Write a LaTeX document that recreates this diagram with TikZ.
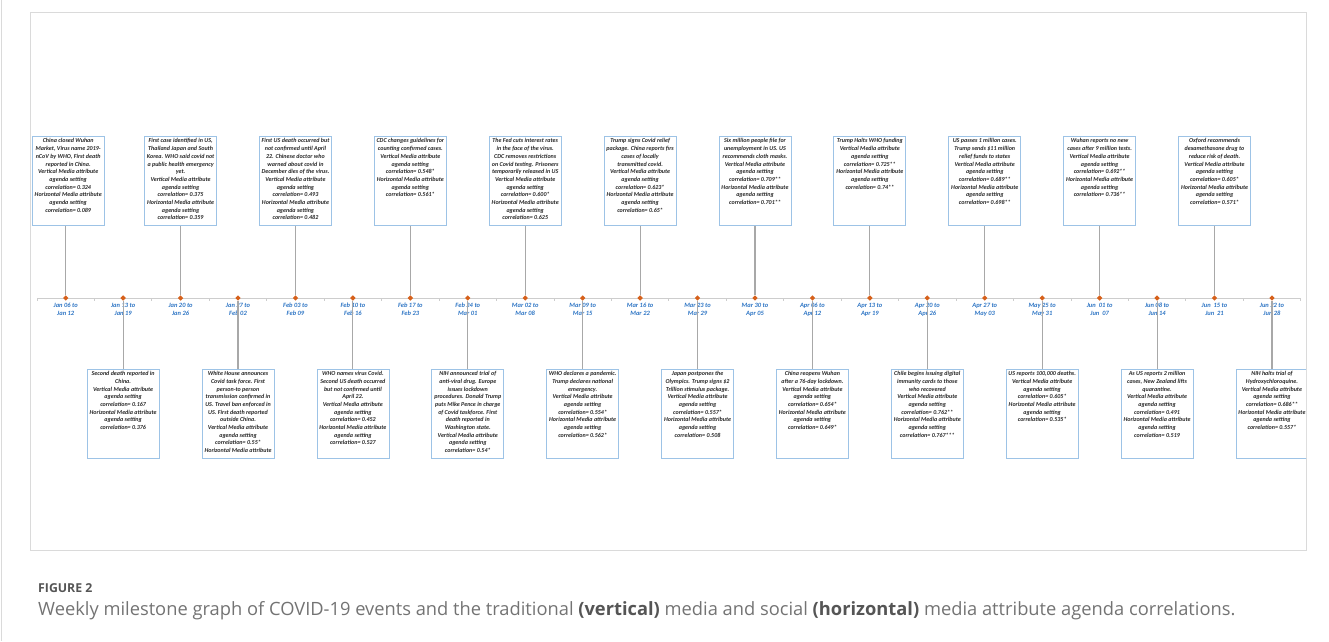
\documentclass[tikz,border=0pt]{standalone}
\usepackage{fontspec}
\setmainfont{Carlito}
\newfontfamily\capfont{Open Sans}
\usepackage{xcolor}
\definecolor{boxline}{RGB}{157,195,230}
\definecolor{stemgray}{RGB}{168,168,168}
\definecolor{axisgray}{RGB}{205,205,205}
\definecolor{dotorange}{RGB}{214,96,26}
\definecolor{datesblue}{RGB}{46,117,196}
\definecolor{framegray}{RGB}{218,218,218}
\definecolor{evtextc}{RGB}{40,40,40}
\definecolor{figgray}{RGB}{85,85,85}
\definecolor{capgray}{RGB}{115,115,115}
\usepackage{tikz}
\usetikzlibrary{positioning,shapes.geometric}
\tikzset{
  event/.style={draw=boxline,fill=white,line width=0.8pt,inner xsep=1.5pt,inner ysep=2pt,%
    text=evtextc,font=\bfseries\itshape\fontsize{6.05}{7.7}\selectfont},
  wkdot/.style={diamond,fill=dotorange,inner sep=0pt,minimum size=5.5pt},
  wklabel/.style={font=\bfseries\itshape\fontsize{6.5}{8}\selectfont,%
    text=datesblue,align=center,inner sep=0pt},
  stem/.style={draw=stemgray,line width=1.1pt},
  axisline/.style={draw=axisgray,line width=0.8pt},
}
\newcommand{\evtext}[1]{\parbox[c][85pt][t]{69pt}{\centering #1}}

\begin{document}
\begin{tikzpicture}[x=1pt,y=-1pt]
\useasboundingbox (0,0) rectangle (1329,641);
% frames
\draw[framegray,line width=0.8pt] (30,12) rectangle (1306,550);
\draw[framegray,line width=1pt] (1.5,0) -- (1.5,641);
% time axis
\coordinate (axl) at (37,298);
\coordinate (axr) at (1300,298);
\draw[axisline] (axl) -- (axr);
\foreach \t in {0,...,22}
  \draw[axisline] ({37+57.44*\t},298) -- ++(0,3);
\foreach \from/\upto [count=\i] in {Jan 06/Jan 12,Jan 13/Jan 19,Jan 20/Jan 26,%
    Jan 27/Feb 02,Feb 03/Feb 09,Feb 10/Feb 16,Feb 17/Feb 23,Feb 24/Mar 01,%
    Mar 02/Mar 08,Mar 09/Mar 15,Mar 16/Mar 22,Mar 23/Mar 29,Mar 30/Apr 05,%
    Apr 06/Apr 12,Apr 13/Apr 19,Apr 20/Apr 26,Apr 27/May 03,May 25/May 31,%
    Jun\ \ 01/Jun\ \ 07,Jun 08/Jun 14,Jun\ \ 15/Jun\ \ 21,Jun 22/Jun 28}{
  \node[wkdot] (d\i) at ({65.7+57.44*(\i-1)},298) {};
  \node[wklabel,below=2pt of d\i] (w\i) {\from{} to\\\upto};
}
% events above the axis
\node[event,above=69pt of d1,xshift=2.5pt] (wuhan) {\evtext{China closed Wuhan\\Market, Virus name 2019-\\nCoV by WHO, First death\\reported in China.\\Vertical Media attribute\\agenda setting\\correlation= 0.324\\Horizontal Media attribute\\agenda setting\\correlation= 0.089}};
\node[event,above=69pt of d3] (usfirst) {\evtext{First case identified in US,\\Thailand Japan and South\\Korea. WHO said covid not\\a public health emergency\\yet.\\Vertical Media attribute\\agenda setting\\correlation= 0.375\\Horizontal Media attribute\\agenda setting\\correlation= 0.359}};
\node[event,above=69pt of d5] (usdeath) {\evtext{First US death occurred but\\not confirmed until April\\22. Chinese doctor who\\warned about covid in\\December dies of the virus.\\Vertical Media attribute\\agenda setting\\correlation= 0.493\\Horizontal Media attribute\\agenda setting\\correlation= 0.482}};
\node[event,above=69pt of d7] (cdc) {\evtext{CDC changes guidelines for\\counting confirmed cases.\\Vertical Media attribute\\agenda setting\\correlation= 0.548*\\Horizontal Media attribute\\agenda setting\\correlation= 0.561*}};
\node[event,above=69pt of d9] (fed) {\evtext{The Fed cuts interest rates\\in the face of the virus.\\CDC removes restrictions\\on Covid testing. Prisoners\\temporarily released in US\\Vertical Media attribute\\agenda setting\\correlation= 0.600*\\Horizontal Media attribute\\agenda setting\\correlation= 0.625}};
\node[event,above=69pt of d11] (relief) {\evtext{Trump signs Covid relief\\package. China reports firs\\cases of locally\\transmitted covid.\\Vertical Media attribute\\agenda setting\\correlation= 0.623*\\Horizontal Media attribute\\agenda setting\\correlation= 0.65*}};
\node[event,above=69pt of d13] (jobless) {\evtext{Six million people file for\\unemployment in US. US\\recommends cloth masks.\\Vertical Media attribute\\agenda setting\\correlation= 0.709**\\Horizontal Media attribute\\agenda setting\\correlation= 0.701**}};
\node[event,above=69pt of d15] (whofund) {\evtext{Trump Halts WHO funding\\Vertical Media attribute\\agenda setting\\correlation= 0.725**\\Horizontal Media attribute\\agenda setting\\correlation= 0.74**}};
\node[event,above=69pt of d17] (million) {\evtext{US passes 1 million cases.\\Trump sends \$11 million\\relief funds to states\\Vertical Media attribute\\agenda setting\\correlation= 0.689**\\Horizontal Media attribute\\agenda setting\\correlation= 0.698**}};
\node[event,above=69pt of d19] (nonew) {\evtext{Wuhan reports no new\\cases after 9 million tests.\\Vertical Media attribute\\agenda setting\\correlation= 0.692**\\Horizontal Media attribute\\agenda setting\\correlation= 0.736**}};
\node[event,above=69pt of d21] (oxford) {\evtext{Oxford recommends\\dexamethasone drug to\\reduce risk of death.\\Vertical Media attribute\\agenda setting\\correlation= 0.605*\\Horizontal Media attribute\\agenda setting\\correlation= 0.571*}};
% events below the axis
\node[event,below=68pt of d2] (second) {\evtext{Second death reported in\\China.\\Vertical Media attribute\\agenda setting\\correlation= 0.167\\Horizontal Media attribute\\agenda setting\\correlation= 0.376}};
\node[event,below=68pt of d4] (taskforce) {\evtext{White House announces\\Covid task force. First\\person-to person\\transmission confirmed in\\US. Travel ban enforced in\\US. First death reported\\outside China.\\Vertical Media attribute\\agenda setting\\correlation= 0.55*\\Horizontal Media attribute}};
\node[event,below=68pt of d6] (naming) {\evtext{WHO names virus Covid.\\Second US death occurred\\but not confirmed until\\April 22.\\Vertical Media attribute\\agenda setting\\correlation= 0.452\\Horizontal Media attribute\\agenda setting\\correlation= 0.527}};
\node[event,below=68pt of d8] (nih) {\evtext{NIH announced trial of\\anti-viral drug. Europe\\issues lockdown\\procedures. Donald Trump\\puts Mike Pence in charge\\of Covid taskforce. First\\death reported in\\Washington state.\\Vertical Media attribute\\agenda setting\\correlation= 0.54*}};
\node[event,below=68pt of d10] (pandemic) {\evtext{WHO declares a pandemic.\\Trump declares national\\emergency.\\Vertical Media attribute\\agenda setting\\correlation= 0.554*\\Horizontal Media attribute\\agenda setting\\correlation= 0.562*}};
\node[event,below=68pt of d12] (olympics) {\evtext{Japan postpones the\\Olympics. Trump signs \$2\\Trillion stimulus package.\\Vertical Media attribute\\agenda setting\\correlation= 0.557*\\Horizontal Media attribute\\agenda setting\\correlation= 0.508}};
\node[event,below=68pt of d14] (reopen) {\evtext{China reopens Wuhan\\after a 76-day lockdown.\\Vertical Media attribute\\agenda setting\\correlation= 0.654*\\Horizontal Media attribute\\agenda setting\\correlation= 0.649*}};
\node[event,below=68pt of d16] (chile) {\evtext{Chile begins issuing digital\\immunity cards to those\\who recovered\\Vertical Media attribute\\agenda setting\\correlation= 0.762**\\Horizontal Media attribute\\agenda setting\\correlation= 0.767***}};
\node[event,below=68pt of d18] (deaths) {\evtext{US reports 100,000 deaths.\\Vertical Media attribute\\agenda setting\\correlation= 0.605*\\Horizontal Media attribute\\agenda setting\\correlation= 0.535*}};
\node[event,below=68pt of d20] (nzlifts) {\evtext{As US reports 2 million\\cases, New Zealand lifts\\quarantine.\\Vertical Media attribute\\agenda setting\\correlation= 0.491\\Horizontal Media attribute\\agenda setting\\correlation= 0.519}};
\begin{scope}
\clip (0,0) rectangle (1306,641);
\node[event,below=68pt of d22] (hcq) {\evtext{NIH halts trial of\\Hydroxychloroquine.\\Vertical Media attribute\\agenda setting\\correlation= 0.686**\\Horizontal Media attribute\\agenda setting\\correlation= 0.557*}};
\end{scope}
% stems
\draw[stem] (wuhan.south -| d1) -- (d1);
\draw[stem] (usfirst) -- (d3);
\draw[stem] (usdeath) -- (d5);
\draw[stem] (cdc) -- (d7);
\draw[stem] (fed) -- (d9);
\draw[stem] (relief) -- (d11);
\draw[stem] (jobless) -- (d13);
\draw[stem] (whofund) -- (d15);
\draw[stem] (million) -- (d17);
\draw[stem] (nonew) -- (d19);
\draw[stem] (oxford) -- (d21);
\draw[stem] (d2) -- (second);
\draw[stem] (d4) -- (taskforce);
\draw[stem] (d6) -- (naming);
\draw[stem] (d8) -- (nih);
\draw[stem] (d10) -- (pandemic);
\draw[stem] (d12) -- (olympics);
\draw[stem] (d14) -- (reopen);
\draw[stem] (d16) -- (chile);
\draw[stem] (d18) -- (deaths);
\draw[stem] (d20) -- (nzlifts);
\draw[stem] (d22) -- (hcq);
% caption
\node[anchor=base west,inner sep=0pt,text=figgray,%
  font=\capfont\bfseries\fontsize{12.3}{14}\selectfont] (figno) at (38,592) {FIGURE 2};
\node[anchor=base west,inner sep=0pt,text=capgray,%
  font=\capfont\fontsize{18.3}{20}\selectfont] (caption) at (38,615)
  {Weekly milestone graph of COVID-19 events and the traditional \textcolor{figgray}{\bfseries(vertical)} media and social \textcolor{figgray}{\bfseries(horizontal)} media attribute agenda correlations.};
\end{tikzpicture}
\end{document}
